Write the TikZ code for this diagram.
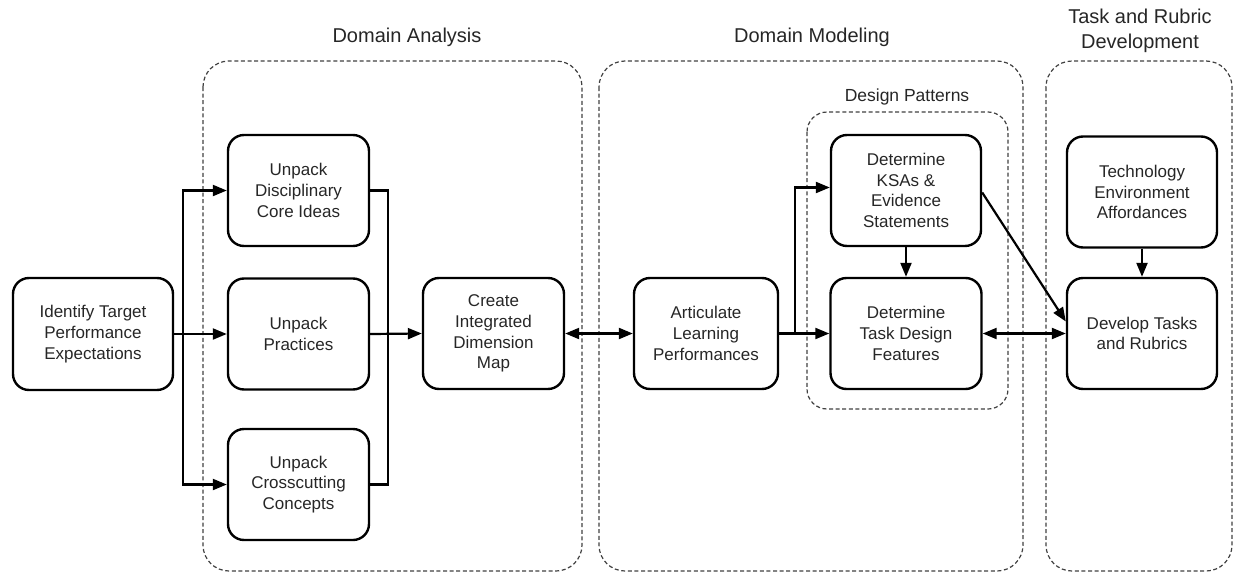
\documentclass[tikz,border=0pt]{standalone}
\usepackage{fontspec}
\setmainfont{Liberation Sans}
\usetikzlibrary{arrows.meta,calc}
\begin{document}
\begin{tikzpicture}[x=1pt,y=-1pt,
  box/.style={draw=black,line width=2.4pt,rounded corners=16pt,align=center,
    inner sep=0pt,text=black!85,font=\fontsize{17}{20.7}\selectfont},
  grp/.style={draw=black!75,line width=1.2pt,dash pattern=on 4pt off 2.6pt,rounded corners=26pt},
  ttl/.style={align=center,text=black!85,font=\fontsize{20}{25}\selectfont},
  sttl/.style={align=center,text=black!85,font=\fontsize{17.5}{21}\selectfont},
  arr/.style={line width=2.2pt,-{Triangle[length=14pt,width=11pt]}},
  darr/.style={line width=2.2pt,{Triangle[length=14pt,width=11pt]}-{Triangle[length=14pt,width=11pt]}},
  ln/.style={line width=2.2pt}]
\useasboundingbox (0,0) rectangle (1235,573);
% groups
\draw[grp] (203,61) rectangle (582,571);
\draw[grp] (599,61) rectangle (1023,571);
\draw[grp] (1046,61) rectangle (1232,571);
\draw[grp,rounded corners=20pt] (807,112) rectangle (1008,409);
% titles
\node[ttl] (tda) at (407,37) {Domain Analysis};
\node[ttl] (tdm) at (812,37) {Domain Modeling};
\node[ttl] (ttr) at (1140,31) {Task and Rubric\\Development};
\node[sttl] (tdp) at (907,97) {Design Patterns};
% boxes
\node[box,minimum width=160pt,minimum height=112pt] (ident) at (93,334) {Identify Target\\Performance\\Expectations};
\node[box,minimum width=141pt,minimum height=111pt] (dci) at (298.5,190.5) {Unpack\\Disciplinary\\Core Ideas};
\node[box,minimum width=141pt,minimum height=111pt] (prac) at (298.5,334) {Unpack\\Practices};
\node[box,minimum width=141pt,minimum height=111pt] (cc) at (298.5,484.5) {Unpack\\Crosscutting\\Concepts};
\node[box,minimum width=141pt,minimum height=111pt] (cim) at (493.5,333.5) {Create\\Integrated\\Dimension\\Map};
\node[box,minimum width=144pt,minimum height=111pt] (alp) at (706,333.5) {Articulate\\Learning\\Performances};
\node[box,minimum width=150pt,minimum height=111pt] (ksa) at (906,190.5) {Determine\\KSAs \&\\Evidence\\Statements};
\node[box,minimum width=151pt,minimum height=111pt] (tdf) at (906,333.5) {Determine\\Task Design\\Features};
\node[box,minimum width=150pt,minimum height=111pt] (tea) at (1142,192) {Technology\\Environment\\Affordances};
\node[box,minimum width=150pt,minimum height=111pt] (dtr) at (1142,333.5) {Develop Tasks\\and Rubrics};
% junctions
\coordinate (jL) at (183,334);
\coordinate (jR) at (388,334);
\coordinate (jM) at (795,333.5);
% connectors
\draw[arr] (ident.east) -- (prac.west);
\draw[arr] (jL) |- (dci.west);
\draw[arr] (jL) |- (cc.west);
\draw[ln] (dci.east) -| (jR);
\draw[ln] (cc.east) -| (jR);
\draw[arr] (prac.east) -- (cim.west);
\draw[darr] (cim.east) -- (alp.west);
\draw[arr] (alp.east) -- (tdf.west);
\draw[arr] (jM) |- ($(ksa.west)+(0,-3)$);
\draw[arr] (ksa.south) -- (tdf.north);
\draw[arr] ($(ksa.east)+(0,2)$) -- ($(dtr.west)+(0,-12)$);
\draw[darr] (tdf.east) -- (dtr.west);
\draw[arr] (tea.south) -- (dtr.north);
\end{tikzpicture}
\end{document}
